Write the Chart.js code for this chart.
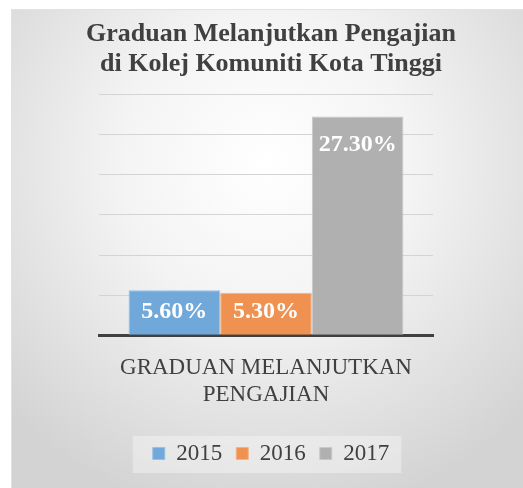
<!DOCTYPE html>
<html>
<head>
<meta charset="utf-8">
<script src="https://cdn.jsdelivr.net/npm/chart.js"></script>
<style>
  body { margin: 0; background: #ffffff; }
  #frame {
    position: absolute; left: 11px; top: 9px; width: 512px; height: 479px;
    background: radial-gradient(ellipse 70% 75% at 50% 32%, #ffffff 0%, #f4f4f4 40%, #d3d3d3 100%);
    box-shadow: inset 1px 1px 0 #e2e2e2;
  }
</style>
</head>
<body>
<div id="frame"><canvas id="myChart" width="512" height="479"></canvas></div>
<script>
// Chart data
var categories = [['GRADUAN MELANJUTKAN', 'PENGAJIAN']];
var years = ['2015', '2016', '2017'];
var values2015 = [5.6];
var values2016 = [5.3];
var values2017 = [27.3];
var yTicksMax = 30;
var yTicksStep = 5;

var fillColors = ['rgb(112,168,218)', 'rgb(239,145,80)', 'rgb(176,176,176)'];
var edgeColors = ['rgb(150,192,230)', 'rgb(245,178,130)', 'rgb(200,200,200)'];
var serif = 'Liberation Serif';

Chart.defaults.font.family = serif;
Chart.defaults.color = '#404040';

// value labels inside the bar tops (kept inside short bars)
var barLabels = {
  id: 'barLabels',
  afterDatasetsDraw: function (chart) {
    var ctx = chart.ctx;
    ctx.save();
    ctx.font = 'bold 24px "Liberation Serif"';
    ctx.fillStyle = '#ffffff';
    ctx.textAlign = 'center';
    ctx.textBaseline = 'middle';
    chart.data.datasets.forEach(function (ds, i) {
      chart.getDatasetMeta(i).data.forEach(function (bar, j) {
        var y = Math.min(bar.y + 28, bar.base - 23);
        ctx.fillText(ds.data[j].toFixed(2) + '%', bar.x, y);
      });
    });
    ctx.restore();
  }
};

// faint panel behind the legend
var legendPanel = {
  id: 'legendPanel',
  beforeDraw: function (chart) {
    var boxes = chart.legend && chart.legend.legendHitBoxes;
    if (!boxes || !boxes.length) return;
    var l = boxes[0].left, r = boxes[boxes.length - 1].left + boxes[boxes.length - 1].width;
    var t = boxes[0].top, b = boxes[0].top + boxes[0].height;
    var ctx = chart.ctx;
    ctx.save();
    ctx.fillStyle = 'rgba(255,255,255,0.35)';
    ctx.fillRect(l - 20, t - 6, r - l + 32, b - t + 14);
    ctx.restore();
  }
};

var chartData = {
  labels: categories,
  datasets: [
    { label: years[0], data: values2015, backgroundColor: fillColors[0], borderColor: edgeColors[0], borderWidth: 1 },
    { label: years[1], data: values2016, backgroundColor: fillColors[1], borderColor: edgeColors[1], borderWidth: 1 },
    { label: years[2], data: values2017, backgroundColor: fillColors[2], borderColor: edgeColors[2], borderWidth: 1 }
  ]
};

var chartOptions = {
  responsive: false,
  animation: false,
  categoryPercentage: 0.823,
  barPercentage: 1,
  layout: { padding: { left: 8, right: 0, top: 0, bottom: 13 } },
  plugins: {
    title: {
      display: true,
      text: ['Graduan Melanjutkan Pengajian', 'di Kolej Komuniti Kota Tinggi'],
      color: '#404040',
      font: { family: serif, size: 26, weight: 'bold', lineHeight: 1.15 },
      padding: { top: 10, bottom: 16 }
    },
    legend: {
      position: 'bottom',
      labels: {
        color: '#404040',
        font: { family: serif, size: 23 },
        boxWidth: 12,
        boxHeight: 12,
        padding: 14
      }
    },
    tooltip: { enabled: false }
  },
  scales: {
    x: {
      grid: { display: false, drawTicks: false },
      border: { display: true, color: '#404040', width: 3 },
      ticks: { display: false },
      title: {
        display: true,
        text: categories[0],
        color: '#404040',
        font: { family: serif, size: 23, lineHeight: 1.17 },
        padding: { top: 19, bottom: 20 }
      }
    },
    y: {
      min: 0,
      max: yTicksMax,
      ticks: { display: false, stepSize: yTicksStep },
      grid: { color: '#d4d4d4', lineWidth: 1, drawTicks: false },
      border: { display: false },
      afterFit: function (scale) { scale.width = 80; }
    },
    yRight: {
      position: 'right',
      min: 0,
      max: yTicksMax,
      ticks: { display: false },
      grid: { display: false, drawTicks: false },
      border: { display: false },
      afterFit: function (scale) { scale.width = 90; }
    }
  }
};

var ctx = document.getElementById('myChart').getContext('2d');
var myChart = new Chart(ctx, {
  type: 'bar',
  data: chartData,
  options: chartOptions,
  plugins: [legendPanel, barLabels]
});
</script>
</body>
</html>
